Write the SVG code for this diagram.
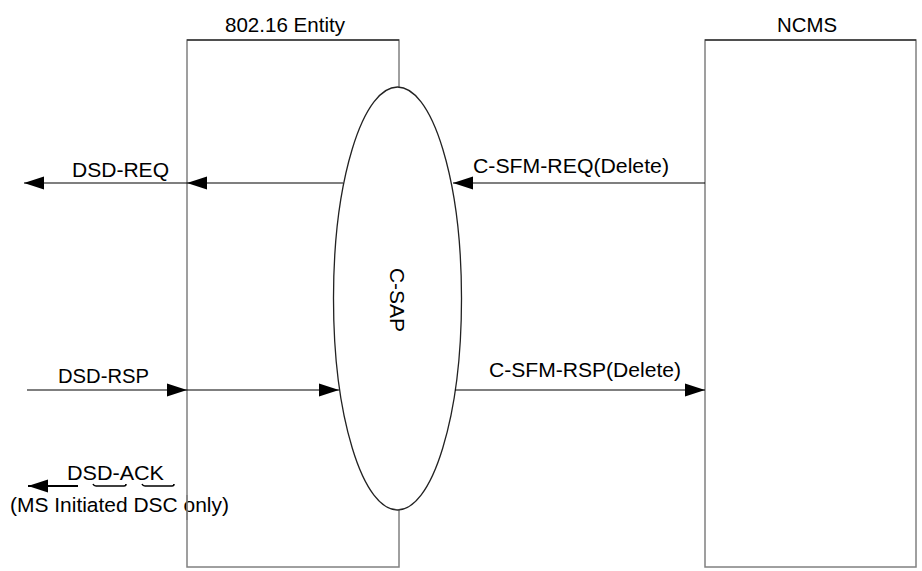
<svg xmlns="http://www.w3.org/2000/svg" width="922" height="571" viewBox="0 0 922 571">
<defs>
<style>
.box{fill:#fff;stroke:#808080;stroke-width:1.5}
.top{stroke:#000;stroke-width:1.2}
.ln{stroke:#000;stroke-width:1.2;fill:none}
.t{font-family:"Liberation Sans",Arial,sans-serif;font-size:20.5px;fill:#000}
</style>
<marker id="ah" markerUnits="userSpaceOnUse" markerWidth="22" markerHeight="14" viewBox="0 0 20 14" refX="20" refY="7" orient="auto">
<path d="M0,0.5 L20,7 L0,13.5 Z" fill="#000"/>
</marker>
</defs>
<rect width="922" height="571" fill="#fff"/>
<g id="entity">
<rect class="box" x="187" y="40" width="212" height="527"/>
<line class="top" x1="187" y1="40" x2="399" y2="40"/>
<text class="t" x="225" y="32" textLength="120" lengthAdjust="spacingAndGlyphs">802.16 Entity</text>
</g>
<g id="ncms">
<rect class="box" x="705" y="40" width="211" height="527"/>
<line class="top" x1="705" y1="40" x2="916" y2="40"/>
<text class="t" x="777" y="32" textLength="60" lengthAdjust="spacingAndGlyphs">NCMS</text>
</g>
<g id="csap">
<ellipse cx="397.5" cy="298.5" rx="64" ry="211.5" fill="#fff" stroke="#222" stroke-width="1.3"/>
<text class="t" transform="translate(390,300) rotate(90)" text-anchor="middle" style="font-size:21px">C-SAP</text>
</g>
<g id="connectors">
<line class="ln" x1="343" y1="183" x2="187" y2="183" marker-end="url(#ah)"/>
<line class="ln" x1="187" y1="183" x2="24" y2="183" marker-end="url(#ah)"/>
<line class="ln" x1="705" y1="183" x2="453" y2="183" marker-end="url(#ah)"/>
<line class="ln" x1="27" y1="390" x2="187" y2="390" marker-end="url(#ah)"/>
<line class="ln" x1="187" y1="390" x2="339" y2="390" marker-end="url(#ah)"/>
<line class="ln" x1="455" y1="390" x2="705" y2="390" marker-end="url(#ah)"/>
<line class="ln" x1="78" y1="486" x2="28" y2="486" marker-end="url(#ah)" style="stroke-width:2"/>
<path class="ln" d="M93,484 Q94,486 96,486 L124,486 Q126,486 126,484 M142,484 Q143,486 145,486 L172,486 Q174,486 174,484" style="stroke-width:1.6"/>
</g>
<g id="labels">
<text class="t" x="72" y="177" textLength="97" lengthAdjust="spacingAndGlyphs">DSD-REQ</text>
<text class="t" x="473" y="173" textLength="196" lengthAdjust="spacingAndGlyphs">C-SFM-REQ(Delete)</text>
<text class="t" x="58" y="383" textLength="91" lengthAdjust="spacingAndGlyphs">DSD-RSP</text>
<text class="t" x="489" y="377" textLength="192" lengthAdjust="spacingAndGlyphs">C-SFM-RSP(Delete)</text>
<text class="t" x="67" y="480" textLength="97" lengthAdjust="spacingAndGlyphs">DSD-ACK</text>
<text class="t" x="10" y="512" textLength="219" lengthAdjust="spacingAndGlyphs">(MS Initiated DSC only)</text>
</g>
<line x1="187" y1="495" x2="187" y2="520" stroke="#808080" stroke-width="1.5"/>
</svg>
